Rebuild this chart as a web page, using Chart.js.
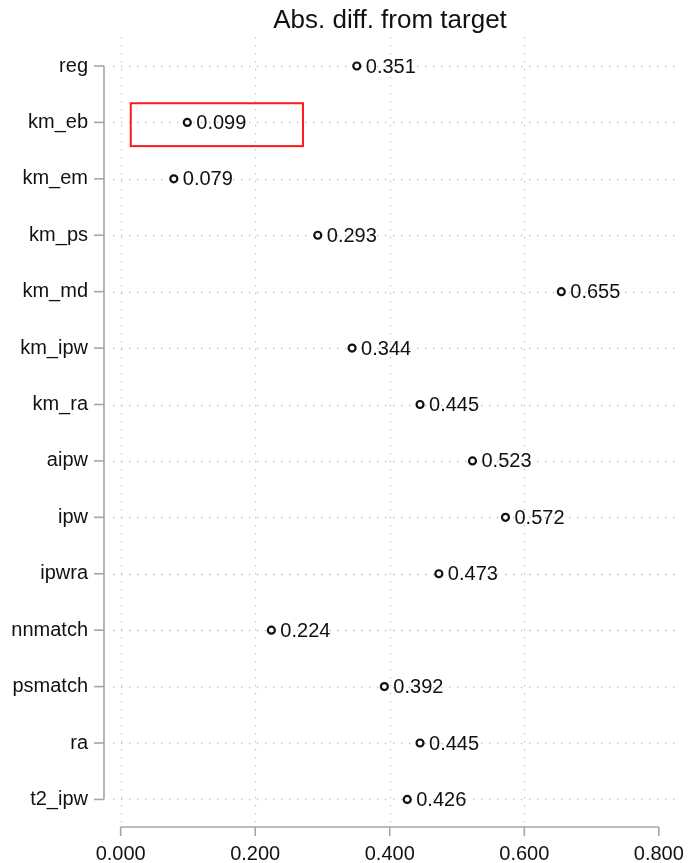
<!DOCTYPE html>
<html>
<head>
<meta charset="utf-8">
<script src="https://cdn.jsdelivr.net/npm/chart.js@4/dist/chart.umd.min.js"></script>
<style>
  html, body { margin: 0; padding: 0; background: #fff; }
  #wrap { width: 693px; height: 863px; }
</style>
</head>
<body>
<div id="wrap"><canvas id="c" width="693" height="863"></canvas></div>
<script>
// Estimators, top to bottom
const methods = ['reg', 'km_eb', 'km_em', 'km_ps', 'km_md', 'km_ipw', 'km_ra',
                 'aipw', 'ipw', 'ipwra', 'nnmatch', 'psmatch', 'ra', 't2_ipw'];
// Absolute difference from the target value
const absDiff = [0.351, 0.099, 0.079, 0.293, 0.655, 0.344, 0.445,
                 0.523, 0.572, 0.473, 0.224, 0.392, 0.445, 0.426];
// X axis tick values
const xTicks = [0, 0.2, 0.4, 0.6, 0.8];
// Highlight box around the km_eb estimate (data units)
const highlight = { xMin: 0.015, xMax: 0.271, yMin: 0.66, yMax: 1.42 };

const titleText = 'Abs. diff. from target';
const FONT = '"Liberation Sans", Arial, Helvetica, sans-serif';
const AXIS_GREY = '#a6a6a6';
const GRID_GREY = '#bdbdbd';

const points = absDiff.map((v, i) => ({ x: v, y: i }));

// Dotted grid, Stata-style axis lines (spanning only the tick range) and title
const framePlugin = {
  id: 'frame',
  beforeDatasetsDraw(chart) {
    const { ctx, chartArea: a, scales: { x, y } } = chart;
    ctx.save();
    ctx.strokeStyle = GRID_GREY;
    ctx.lineWidth = 1.3;
    ctx.setLineDash([1.3, 6.7]);
    methods.forEach((_, i) => {
      const py = Math.round(y.getPixelForValue(i)) + 0.5;
      ctx.beginPath(); ctx.moveTo(a.left, py); ctx.lineTo(a.right, py); ctx.stroke();
    });
    xTicks.slice(0, -1).forEach(t => {
      const px = Math.round(x.getPixelForValue(t)) + 0.5;
      ctx.beginPath(); ctx.moveTo(px, a.top); ctx.lineTo(px, a.bottom); ctx.stroke();
    });
    ctx.setLineDash([]);

    // axis lines
    ctx.strokeStyle = AXIS_GREY;
    ctx.lineWidth = 1.6;
    const ax = a.left - 9;
    const y0 = y.getPixelForValue(0), y1 = y.getPixelForValue(methods.length - 1);
    ctx.beginPath(); ctx.moveTo(ax, y0); ctx.lineTo(ax, y1); ctx.stroke();
    methods.forEach((_, i) => {
      const py = y.getPixelForValue(i);
      ctx.beginPath(); ctx.moveTo(ax - 10, py); ctx.lineTo(ax, py); ctx.stroke();
    });
    const ay = a.bottom + 5;
    const x0 = x.getPixelForValue(xTicks[0]), x1 = x.getPixelForValue(xTicks[xTicks.length - 1]);
    ctx.beginPath(); ctx.moveTo(x0, ay); ctx.lineTo(x1, ay); ctx.stroke();
    xTicks.forEach(t => {
      const px = x.getPixelForValue(t);
      ctx.beginPath(); ctx.moveTo(px, ay); ctx.lineTo(px, ay + 9); ctx.stroke();
    });

    // title
    ctx.fillStyle = '#111';
    ctx.font = '26px ' + FONT;
    ctx.textAlign = 'center';
    ctx.textBaseline = 'alphabetic';
    ctx.fillText(titleText, (a.left + a.right) / 2 - 5, 28);
    ctx.restore();
  },
  afterDatasetsDraw(chart) {
    const { ctx, scales: { x, y } } = chart;
    ctx.save();
    // value labels next to each marker
    ctx.fillStyle = '#111';
    ctx.font = '20px ' + FONT;
    ctx.textAlign = 'left';
    ctx.textBaseline = 'middle';
    absDiff.forEach((v, i) => {
      ctx.fillText(v.toFixed(3), x.getPixelForValue(v) + 9, y.getPixelForValue(i) + 1);
    });
    // highlight box
    ctx.strokeStyle = '#ff1a1a';
    ctx.lineWidth = 2;
    const l = x.getPixelForValue(highlight.xMin), r = x.getPixelForValue(highlight.xMax);
    const t = y.getPixelForValue(highlight.yMin), b = y.getPixelForValue(highlight.yMax);
    ctx.strokeRect(l, t, r - l, b - t);
    ctx.restore();
  }
};

new Chart(document.getElementById('c'), {
  type: 'scatter',
  data: {
    datasets: [{
      data: points,
      pointStyle: 'circle',
      pointRadius: 3.5,
      pointHoverRadius: 3.5,
      borderWidth: 2.2,
      borderColor: '#111',
      backgroundColor: '#fff'
    }]
  },
  options: {
    responsive: false,
    animation: false,
    events: [],
    layout: { padding: { top: 37, right: 16, left: 0, bottom: 0 } },
    plugins: { legend: { display: false }, title: { display: false }, tooltip: { enabled: false } },
    scales: {
      x: {
        type: 'linear',
        min: -0.0114,
        max: 0.827,
        afterBuildTicks: s => { s.ticks = xTicks.map(v => ({ value: v })); },
        afterFit: s => { s.height = 41; s.paddingLeft = 0; s.paddingRight = 0; },
        grid: { display: false, drawTicks: false },
        border: { display: false },
        ticks: {
          autoSkip: false,
          maxRotation: 0,
          padding: 20,
          color: '#111',
          font: { family: FONT, size: 20 },
          callback: v => Number(v).toFixed(3)
        }
      },
      y: {
        type: 'linear',
        reverse: true,
        min: -0.514,
        max: 13.4,
        afterBuildTicks: s => { s.ticks = methods.map((_, i) => ({ value: i })); },
        afterFit: s => { s.width = 113; s.paddingTop = 0; s.paddingBottom = 0; },
        grid: { display: false, drawTicks: false },
        border: { display: false },
        ticks: {
          autoSkip: false,
          padding: 25,
          color: '#111',
          font: { family: FONT, size: 20 },
          callback: v => methods[v] ?? ''
        }
      }
    }
  },
  plugins: [framePlugin]
});
</script>
</body>
</html>
